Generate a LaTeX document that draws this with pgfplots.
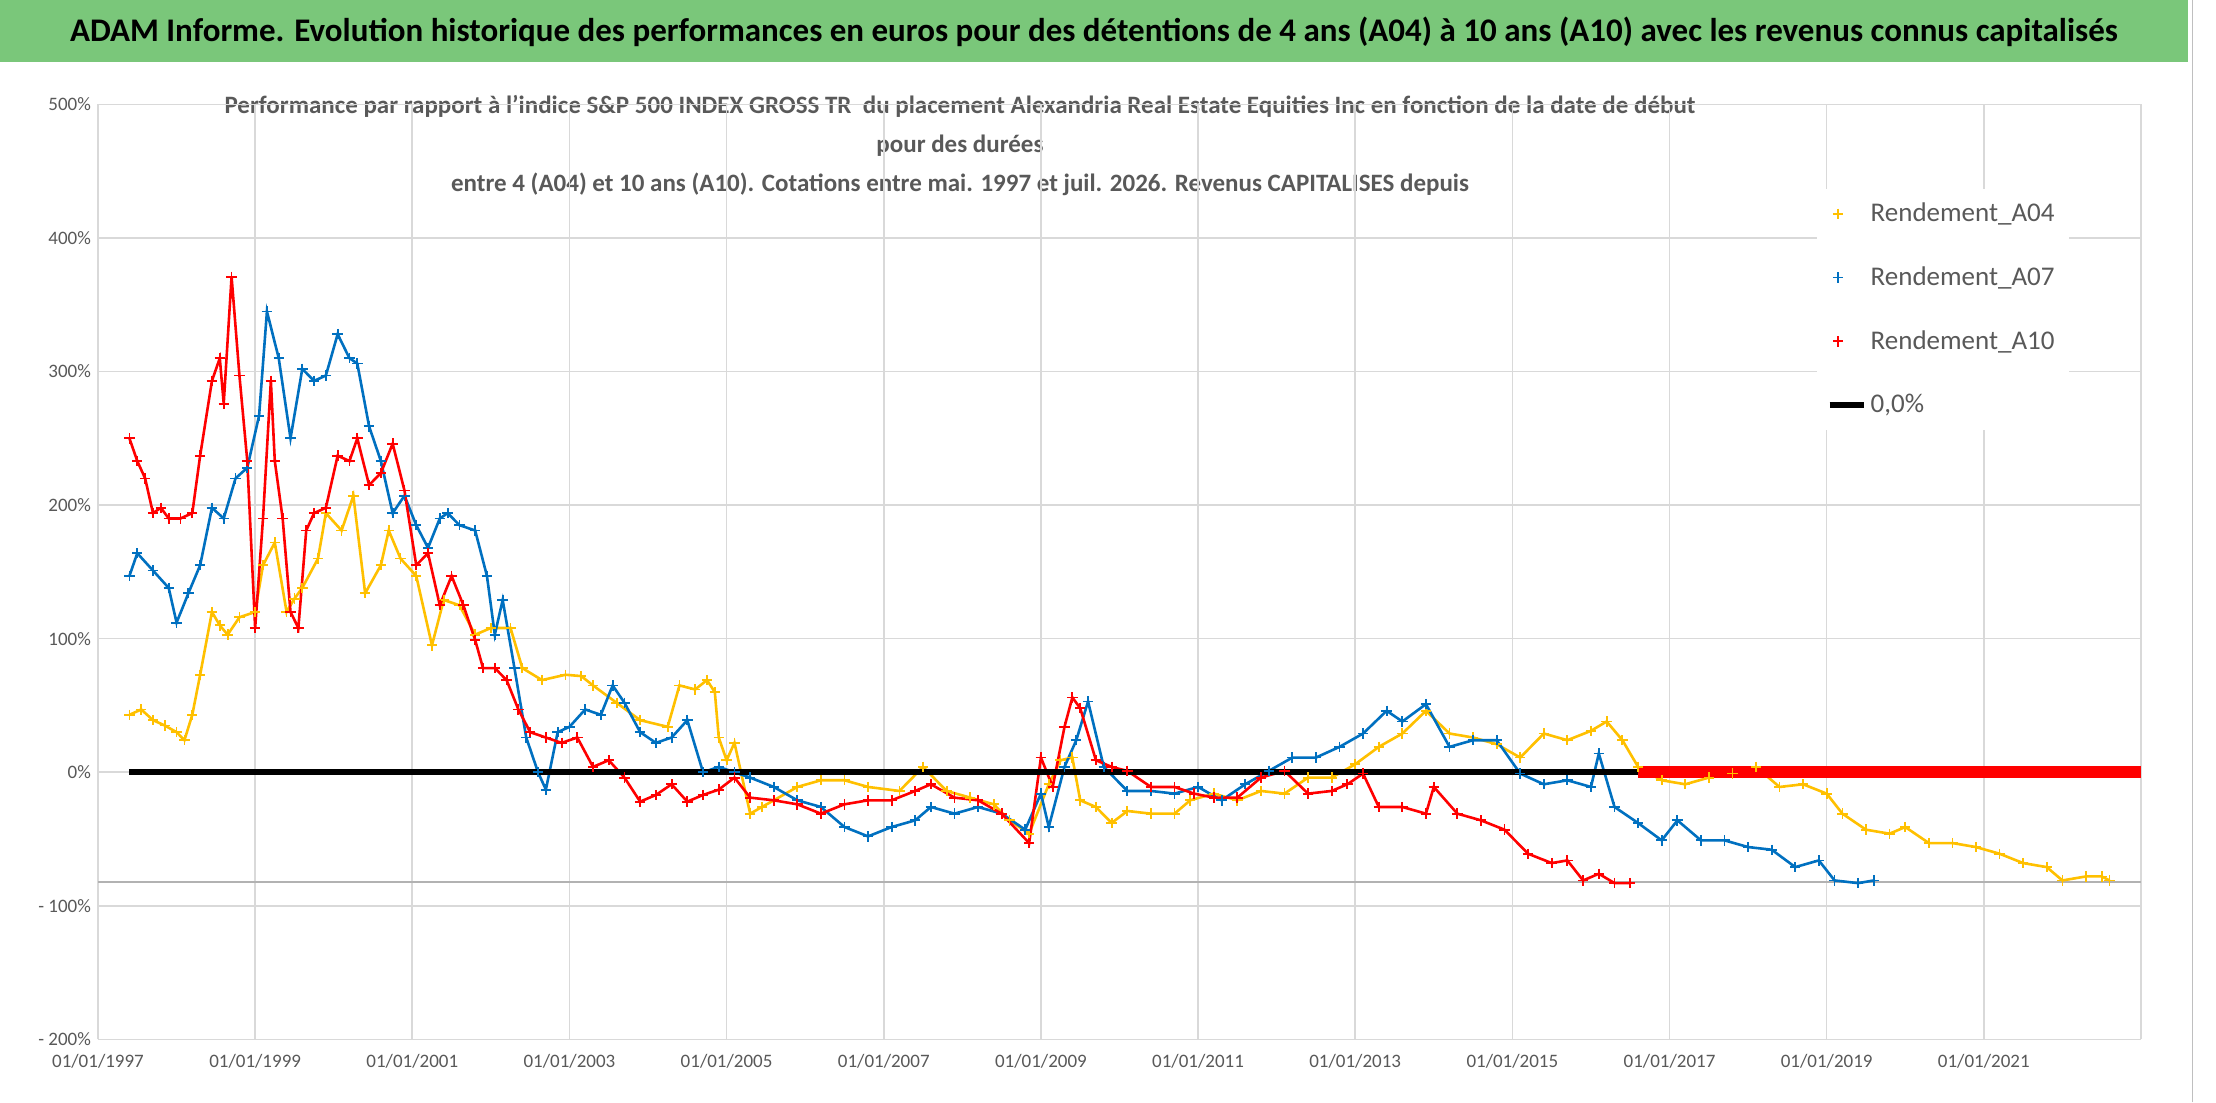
\documentclass[border=0pt]{standalone}
\usepackage{fontspec}
\setmainfont{Carlito}
\usepackage{pgfplots}
\pgfplotsset{compat=1.18}
\definecolor{cgold}{HTML}{FFC000}
\definecolor{cblue}{HTML}{0070C0}
\definecolor{cred}{HTML}{FF0000}
\definecolor{cgreen}{HTML}{7AC77A}
\definecolor{tgray}{HTML}{595959}
\begin{document}
\begin{tikzpicture}
\fill[white] (0pt,0pt) rectangle (1108pt,551pt);
\fill[cgreen] (0pt,520pt) rectangle (1094pt,551pt);
\draw[gray!50] (1096pt,0pt) -- (1096pt,551pt);
\node[font=\fontsize{16.5}{18}\selectfont\bfseries] at (547pt,535.5pt) {ADAM Informe. Evolution historique des performances en euros pour des détentions de 4 ans (A04) à 10 ans (A10) avec les revenus connus capitalisés};
\node[font=\fontsize{12.5}{19.5}\selectfont\bfseries, text=tgray, align=center] at (480pt,478.5pt) {Performance par rapport à l'indice S\&P 500 INDEX GROSS TR\ \ du placement Alexandria Real Estate Equities Inc en fonction de la date de début\\pour des durées\\entre 4 (A04) et 10 ans (A10). Cotations entre mai. 1997 et juil. 2026. Revenus CAPITALISES depuis};
\begin{axis}[at={(49pt,31.5pt)}, anchor=south west, scale only axis,
  width=1021.5pt, height=467.5pt,
  xmin=1997, xmax=2023, ymin=-200, ymax=500,
  axis line style={draw=none}, tick style={draw=none},
  grid=major, grid style={gray!30, line width=0.8pt},
  xtick={1997,1999,...,2021}, extra x ticks={2023}, extra x tick labels={},
  xticklabels={01/01/1997,01/01/1999,01/01/2001,01/01/2003,01/01/2005,01/01/2007,01/01/2009,01/01/2011,01/01/2013,01/01/2015,01/01/2017,01/01/2019,01/01/2021},
  ytick={-200,-100,...,500},
  yticklabels={- 200\%,- 100\%,0\%,100\%,200\%,300\%,400\%,500\%},
  ticklabel style={font=\fontsize{9.5}{11}\selectfont, text=tgray},
  xticklabel style={yshift=-4pt},
  legend style={at={(0.841,0.91)}, anchor=north west, draw=none, fill=white,
    font=\fontsize{13.5}{15}\selectfont, text=tgray, row sep=17pt, inner sep=5pt},
  legend cell align=left,
  every axis plot/.append style={mark=+, mark size=2.6pt, mark options={line width=0.9pt}},
  mleg/.style={legend image code/.code={\draw[##1, line width=0.9pt] plot[mark=+, mark size=2.6pt] coordinates {(0.15cm,0cm)};}},
]
\addplot[gray!60, line width=1pt, forget plot, no marks] coordinates {(1997,-82) (2023,-82)};
\addplot[cgold, line width=1.3pt, mleg] coordinates {
(1997.4,43)(1997.55,47)(1997.7,39)(1997.85,35)(1998.0,30)(1998.1,24)(1998.2,43)(1998.3,73)(1998.45,120)(1998.55,110)(1998.65,103)(1998.8,116)(1999.0,120)(1999.1,155)(1999.25,172)(1999.4,120)(1999.5,130)(1999.6,138)(1999.8,160)(1999.9,194)(2000.1,181)(2000.25,207)(2000.4,134)(2000.6,155)(2000.7,181)(2000.85,160)(2001.05,147)(2001.25,95)(2001.4,129)(2001.6,125)(2001.8,103)(2002.0,108)(2002.25,108)(2002.4,78)(2002.65,69)(2002.95,73)(2003.15,72)(2003.3,65)(2003.6,52)(2003.9,39)(2004.25,34)(2004.4,65)(2004.6,62)(2004.75,69)(2004.85,60)(2004.9,26)(2005.0,9)(2005.1,22)(2005.3,-31)(2005.45,-26)(2005.6,-21)(2005.9,-11)(2006.2,-6)(2006.5,-6)(2006.8,-11)(2007.2,-14)(2007.5,4)(2007.8,-14)(2008.1,-19)(2008.4,-24)(2008.6,-36)(2008.85,-46)(2009.1,-9)(2009.25,9)(2009.4,11)(2009.5,-21)(2009.7,-26)(2009.9,-38)(2010.1,-29)(2010.4,-31)(2010.7,-31)(2010.9,-21)(2011.2,-16)(2011.5,-21)(2011.8,-14)(2012.1,-16)(2012.4,-4)(2012.7,-4)(2013.0,6)(2013.3,19)(2013.6,29)(2013.9,46)(2014.2,29)(2014.5,26)(2014.8,21)(2015.1,11)(2015.4,29)(2015.7,24)(2016.0,31)(2016.2,38)(2016.4,24)(2016.6,4)(2016.9,-6)(2017.2,-9)(2017.5,-4)(2017.8,-1)(2018.1,4)(2018.4,-11)(2018.7,-9)(2019.0,-16)(2019.2,-31)(2019.5,-43)(2019.8,-46)(2020.0,-41)(2020.3,-53)(2020.6,-53)(2020.9,-56)(2021.2,-61)(2021.5,-68)(2021.8,-71)(2022.0,-81)(2022.3,-78)(2022.5,-78)(2022.6,-81)};
\addlegendentry{Rendement\_A04}
\addplot[cblue, line width=1.3pt, mleg] coordinates {
(1997.4,147)(1997.5,164)(1997.7,151)(1997.9,138)(1998.0,112)(1998.15,134)(1998.3,155)(1998.45,198)(1998.6,190)(1998.75,220)(1998.9,228)(1999.05,267)(1999.15,345)(1999.3,310)(1999.45,250)(1999.6,302)(1999.75,293)(1999.9,297)(2000.05,328)(2000.2,310)(2000.3,306)(2000.45,259)(2000.6,233)(2000.75,194)(2000.9,207)(2001.05,185)(2001.2,168)(2001.35,190)(2001.45,194)(2001.6,185)(2001.8,181)(2001.95,147)(2002.05,103)(2002.15,129)(2002.3,78)(2002.45,26)(2002.6,0)(2002.7,-13)(2002.85,30)(2003.0,34)(2003.2,47)(2003.4,43)(2003.55,65)(2003.7,52)(2003.9,30)(2004.1,22)(2004.3,26)(2004.5,39)(2004.7,0)(2004.9,4)(2005.1,0)(2005.3,-4)(2005.6,-11)(2005.9,-21)(2006.2,-26)(2006.5,-41)(2006.8,-48)(2007.1,-41)(2007.4,-36)(2007.6,-26)(2007.9,-31)(2008.2,-26)(2008.5,-31)(2008.8,-43)(2009.0,-16)(2009.1,-41)(2009.3,4)(2009.45,24)(2009.6,53)(2009.8,4)(2010.1,-14)(2010.4,-14)(2010.7,-16)(2011.0,-11)(2011.3,-21)(2011.6,-9)(2011.9,1)(2012.2,11)(2012.5,11)(2012.8,19)(2013.1,29)(2013.4,46)(2013.6,38)(2013.9,51)(2014.2,19)(2014.5,24)(2014.8,24)(2015.1,-1)(2015.4,-9)(2015.7,-6)(2016.0,-11)(2016.1,14)(2016.3,-26)(2016.6,-38)(2016.9,-51)(2017.1,-36)(2017.4,-51)(2017.7,-51)(2018.0,-56)(2018.3,-58)(2018.6,-71)(2018.9,-66)(2019.1,-81)(2019.4,-83)(2019.6,-81)};
\addlegendentry{Rendement\_A07}
\addplot[cred, line width=1.3pt, mleg] coordinates {
(1997.4,250)(1997.5,233)(1997.6,220)(1997.7,194)(1997.8,198)(1997.9,190)(1998.05,190)(1998.2,194)(1998.3,237)(1998.45,293)(1998.55,310)(1998.6,276)(1998.7,371)(1998.8,297)(1998.9,233)(1999.0,108)(1999.1,190)(1999.2,293)(1999.25,233)(1999.35,190)(1999.45,120)(1999.55,108)(1999.65,181)(1999.75,194)(1999.9,198)(2000.05,237)(2000.2,233)(2000.3,250)(2000.45,215)(2000.6,224)(2000.75,246)(2000.9,211)(2001.05,155)(2001.2,164)(2001.35,125)(2001.5,147)(2001.65,125)(2001.8,99)(2001.9,78)(2002.05,78)(2002.2,69)(2002.35,47)(2002.5,30)(2002.7,26)(2002.9,22)(2003.1,26)(2003.3,4)(2003.5,9)(2003.7,-4)(2003.9,-22)(2004.1,-17)(2004.3,-9)(2004.5,-22)(2004.7,-17)(2004.9,-13)(2005.1,-4)(2005.3,-19)(2005.6,-21)(2005.9,-24)(2006.2,-31)(2006.5,-24)(2006.8,-21)(2007.1,-21)(2007.4,-14)(2007.6,-9)(2007.9,-19)(2008.2,-21)(2008.5,-31)(2008.85,-53)(2009.0,11)(2009.15,-11)(2009.3,34)(2009.4,56)(2009.5,48)(2009.7,9)(2009.9,4)(2010.1,1)(2010.4,-11)(2010.7,-11)(2010.95,-16)(2011.2,-19)(2011.5,-19)(2011.8,-4)(2012.1,1)(2012.4,-16)(2012.7,-14)(2012.9,-9)(2013.1,-1)(2013.3,-26)(2013.6,-26)(2013.9,-31)(2014.0,-11)(2014.3,-31)(2014.6,-36)(2014.9,-43)(2015.2,-61)(2015.5,-68)(2015.7,-66)(2015.9,-81)(2016.1,-76)(2016.3,-83)(2016.5,-83)};
\addlegendentry{Rendement\_A10}
\addplot[black, line width=3pt, no marks] coordinates {(1997.4,0) (2016.6,0)};
\addlegendentry{0,0\%}
\addplot[cred, line width=6pt, no marks, forget plot] coordinates {(2016.6,0) (2023,0)};
\end{axis}
\end{tikzpicture}
\end{document}
